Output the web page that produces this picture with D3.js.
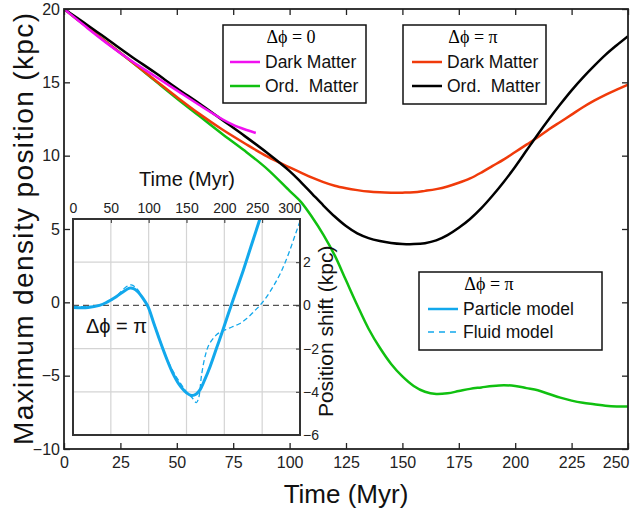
<!DOCTYPE html>
<html>
<head>
<meta charset="utf-8">
<title>Maximum density position</title>
<script src="https://cdn.jsdelivr.net/npm/d3@7"></script>
<style>
  body { margin: 0; background: #fff; }
  svg { display: block; font-family: "Liberation Sans", Arial, sans-serif; }
  .tick text { fill: #222; }
</style>
</head>
<body>
<script>
// main panel: time (Myr) vs position (kpc)
const timeMain = [0, 10, 20, 30, 40, 50, 60, 70, 80, 90, 100, 105, 110, 115, 120, 125, 130, 135, 140, 145, 150, 155, 160, 165, 170, 175, 180, 185, 190, 195, 200, 205, 210, 215, 220, 225, 230, 235, 240, 245, 250];
const timeDmZero = [0, 10, 20, 30, 40, 50, 60, 70, 75, 80, 85];
const dmZero = [20, 18.75, 17.55, 16.45, 15.45, 14.45, 13.45, 12.5, 12.1, 11.8, 11.55];   // dark matter, dphi = 0 (stops at t=85)
const ordZero = [20, 18.8, 17.6, 16.4, 15.15, 13.9, 12.7, 11.5, 10.35, 9.1, 7.6, 6.85, 5.8, 4.6, 3.2, 1.5, -0.2, -1.8, -3.1, -4.2, -5.05, -5.7, -6.1, -6.25, -6.2, -6.05, -5.9, -5.8, -5.7, -5.65, -5.7, -5.85, -6.0, -6.25, -6.5, -6.7, -6.85, -6.95, -7.05, -7.1, -7.1];
const dmPi = [20, 18.8, 17.6, 16.4, 15.2, 14.0, 12.85, 11.8, 10.85, 9.95, 9.2, 8.85, 8.5, 8.2, 7.95, 7.78, 7.65, 7.55, 7.5, 7.48, 7.48, 7.5, 7.6, 7.72, 7.9, 8.15, 8.45, 8.85, 9.3, 9.75, 10.25, 10.75, 11.25, 11.8, 12.3, 12.8, 13.3, 13.75, 14.15, 14.5, 14.85];
const ordPi = [20, 18.95, 17.85, 16.75, 15.7, 14.6, 13.55, 12.45, 11.35, 10.2, 8.95, 8.2, 7.4, 6.6, 5.85, 5.2, 4.7, 4.38, 4.18, 4.05, 3.98, 3.97, 4.03, 4.22, 4.58, 5.08, 5.68, 6.42, 7.28, 8.22, 9.25, 10.35, 11.45, 12.5, 13.5, 14.45, 15.32, 16.12, 16.87, 17.53, 18.15];

// inset: position shift (kpc), dphi = pi
const timeParticle = [0, 20, 35, 45, 55, 65, 75, 80, 86, 92, 99, 107, 115, 123, 132, 140, 150, 157, 163, 168, 174, 181, 190, 198, 209, 217, 225, 235, 247];
const particle = [-0.1, -0.1, 0.0, 0.15, 0.35, 0.6, 0.8, 0.78, 0.62, 0.35, -0.05, -0.85, -1.65, -2.4, -3.15, -3.65, -4.05, -4.17, -4.1, -3.9, -3.45, -2.85, -1.95, -1.15, 0.0, 0.8, 1.62, 2.7, 4.0];
const timeFluid = [0, 20, 40, 55, 70, 77, 85, 92, 98, 110, 120, 130, 140, 150, 158, 163, 166, 170, 175, 180, 190, 200, 210, 220, 230, 240, 247, 255, 265, 275, 285, 295, 300];
const fluid = [-0.05, -0.05, 0.05, 0.35, 0.85, 0.95, 0.75, 0.35, 0.0, -1.1, -2.1, -2.9, -3.5, -4.0, -4.3, -4.5, -4.3, -3.2, -2.3, -1.8, -1.35, -1.15, -1.0, -0.85, -0.6, -0.25, 0.0, 0.35, 0.9, 1.55, 2.4, 3.4, 3.9];

const xTicksMain = [0, 25, 50, 75, 100, 125, 150, 175, 200, 225, 250];
const yTicksMain = [-10, -5, 0, 5, 10, 15, 20];
const xTicksInset = [0, 50, 100, 150, 200, 250, 300];
const yTicksInset = [-6, -4, -2, 0, 2];

const margin = { top: 9, right: 2, bottom: 59, left: 64 };
const width = 630 - margin.left - margin.right;
const height = 508 - margin.top - margin.bottom;

const svg = d3.select("body").append("svg")
  .attr("width", 630)
  .attr("height", 508);

const x = d3.scaleLinear().domain([0, 250]).range([margin.left, margin.left + width]);
const y = d3.scaleLinear().domain([-10, 20]).range([margin.top + height, margin.top]);

svg.append("clipPath").attr("id", "clipMain")
  .append("rect").attr("x", x(0)).attr("y", y(20)).attr("width", width).attr("height", height);

// main curves
const line = (xs, ys) => d3.line()
  .x((d, i) => x(xs[i]))
  .y(d => y(d))
  .curve(d3.curveCatmullRom)(ys);

const curves = svg.append("g").attr("clip-path", "url(#clipMain)");
curves.append("path").attr("d", line(timeMain, ordZero)).attr("fill", "none").attr("stroke", "#10c010").attr("stroke-width", 2.5);
curves.append("path").attr("d", line(timeMain, dmPi)).attr("fill", "none").attr("stroke", "#f03a0a").attr("stroke-width", 2.5);
curves.append("path").attr("d", line(timeMain, ordPi)).attr("fill", "none").attr("stroke", "#000").attr("stroke-width", 2.5);
curves.append("path").attr("d", line(timeDmZero, dmZero)).attr("fill", "none").attr("stroke", "#f010f0").attr("stroke-width", 2.5);

// main axes, ticks pointing inward
svg.append("g").attr("transform", `translate(0,${y(-10)})`)
  .call(d3.axisBottom(x).tickValues(xTicksMain).tickSize(-6).tickPadding(8))
  .call(g => g.select(".domain").remove())
  .call(g => g.selectAll(".tick text").filter(d => d === 250).attr("text-anchor", "end").attr("dx", 1));
svg.append("g").attr("transform", `translate(0,${y(20)})`)
  .call(d3.axisTop(x).tickValues(xTicksMain).tickSize(-6).tickFormat(""))
  .call(g => g.select(".domain").remove());
svg.append("g").attr("transform", `translate(${x(0)},0)`)
  .call(d3.axisLeft(y).tickValues(yTicksMain).tickSize(-6).tickPadding(4))
  .call(g => g.select(".domain").remove());
svg.append("g").attr("transform", `translate(${x(250)},0)`)
  .call(d3.axisRight(y).tickValues(yTicksMain).tickSize(-6).tickFormat(""))
  .call(g => g.select(".domain").remove());
svg.selectAll(".tick line").attr("stroke", "#222").attr("stroke-width", 1.3);
svg.selectAll(".tick text").style("font-size", "16px");

svg.append("rect")
  .attr("x", x(0)).attr("y", y(20)).attr("width", width).attr("height", height)
  .attr("fill", "none").attr("stroke", "#222").attr("stroke-width", 1.8);

svg.append("text")
  .attr("x", (x(0) + x(250)) / 2).attr("y", 503)
  .attr("text-anchor", "middle").style("font-size", "26px").attr("fill", "#111")
  .text("Time (Myr)");
svg.append("text")
  .attr("transform", `translate(33,${y(5)}) rotate(-90)`)
  .attr("text-anchor", "middle").style("font-size", "28px").attr("fill", "#111")
  .attr("textLength", 432).attr("lengthAdjust", "spacing")
  .text("Maximum density position (kpc)");

// legends
function legend(box, textX, title, rows) {
  const g = svg.append("g");
  g.append("rect").attr("x", box[0]).attr("y", box[1]).attr("width", box[2]).attr("height", box[3])
    .attr("fill", "#fff").attr("stroke", "#111").attr("stroke-width", 1.5);
  g.append("text").attr("x", textX + 26).attr("y", title.y).attr("text-anchor", "middle")
    .style("font-family", "'Liberation Serif', 'Times New Roman', serif").style("font-size", "18px")
    .text(title.text);
  rows.forEach(r => {
    g.append("line").attr("x1", textX - 35).attr("x2", textX - 5).attr("y1", r.y - 6).attr("y2", r.y - 6)
      .attr("stroke", r.color).attr("stroke-width", r.dash ? 1.3 : 2.5).attr("stroke-dasharray", r.dash ? "6,5" : null);
    g.append("text").attr("x", textX).attr("y", r.y).style("font-size", "17.5px").attr("fill", "#111").text(r.label);
  });
}
legend([223, 25, 143, 78], 265, { text: "Δϕ = 0", y: 43 }, [
  { label: "Dark Matter", color: "#f010f0", y: 68 },
  { label: "Ord.\u00a0 Matter", color: "#10c010", y: 92 }
]);
legend([403, 25, 143, 79], 447, { text: "Δϕ = π", y: 43 }, [
  { label: "Dark Matter", color: "#f03a0a", y: 68 },
  { label: "Ord.\u00a0 Matter", color: "#000", y: 92 }
]);

// inset
const ix = d3.scaleLinear().domain([0, 300]).range([73, 300]);
const iy = d3.scaleLinear().domain([-6, 4]).range([435, 219]);

const inset = svg.append("g");
inset.append("rect").attr("x", ix(0)).attr("y", iy(4)).attr("width", ix(300) - ix(0)).attr("height", iy(-6) - iy(4))
  .attr("fill", "#fff");
svg.append("clipPath").attr("id", "clipInset")
  .append("rect").attr("x", ix(0)).attr("y", iy(4)).attr("width", ix(300) - ix(0)).attr("height", iy(-6) - iy(4));

inset.selectAll(".vgrid").data(xTicksInset.slice(1, -1)).join("line")
  .attr("x1", d => ix(d)).attr("x2", d => ix(d)).attr("y1", iy(4)).attr("y2", iy(-6))
  .attr("stroke", "#d4d4d4").attr("stroke-width", 1.2);
inset.selectAll(".hgrid").data([2, -2, -4]).join("line")
  .attr("x1", ix(0)).attr("x2", ix(300)).attr("y1", d => iy(d)).attr("y2", d => iy(d))
  .attr("stroke", "#d4d4d4").attr("stroke-width", 1.2);
inset.append("line").attr("x1", ix(0)).attr("x2", ix(300)).attr("y1", iy(0)).attr("y2", iy(0))
  .attr("stroke", "#555").attr("stroke-width", 1.3).attr("stroke-dasharray", "6,4");

const iline = (xs, ys) => d3.line()
  .x((d, i) => ix(xs[i]))
  .y(d => iy(d))
  .curve(d3.curveCatmullRom)(ys);
const icurves = inset.append("g").attr("clip-path", "url(#clipInset)");
icurves.append("path").attr("d", iline(timeFluid, fluid)).attr("fill", "none")
  .attr("stroke", "#12a8ec").attr("stroke-width", 1.3).attr("stroke-dasharray", "5,3");
icurves.append("path").attr("d", iline(timeParticle, particle)).attr("fill", "none")
  .attr("stroke", "#12a8ec").attr("stroke-width", 3);

inset.append("g").attr("transform", `translate(0,${iy(4)})`)
  .call(d3.axisTop(ix).tickValues(xTicksInset).tickSize(-4).tickPadding(6))
  .call(g => g.select(".domain").remove())
  .call(g => g.selectAll(".tick text").style("font-size", "14px"))
  .call(g => g.selectAll(".tick text").filter(d => d === 250).attr("dx", -5))
  .call(g => g.selectAll(".tick text").filter(d => d === 300).attr("text-anchor", "end").attr("dx", 1));
inset.append("g").attr("transform", `translate(${ix(300)},0)`)
  .call(d3.axisRight(iy).tickValues(yTicksInset).tickSize(-4).tickPadding(3))
  .call(g => g.select(".domain").remove())
  .selectAll("text").style("font-size", "14px");
inset.selectAll(".tick line").attr("stroke", "#333");
inset.append("rect").attr("x", ix(0)).attr("y", iy(4)).attr("width", ix(300) - ix(0)).attr("height", iy(-6) - iy(4))
  .attr("fill", "none").attr("stroke", "#333").attr("stroke-width", 2);

inset.append("text").attr("x", 187).attr("y", 186).attr("text-anchor", "middle")
  .style("font-size", "20px").attr("fill", "#111").text("Time (Myr)");
inset.append("text").attr("transform", `translate(333,${iy(-1.2)}) rotate(-90)`).attr("text-anchor", "middle")
  .style("font-size", "21px").attr("fill", "#111").text("Position shift (kpc)");
inset.append("text").attr("x", 86).attr("y", 333)
  .style("font-size", "20px").attr("fill", "#111").text("Δϕ = π");

legend([419, 272, 183, 78], 463, { text: "Δϕ = π", y: 290 }, [
  { label: "Particle model", color: "#12a8ec", y: 315 },
  { label: "Fluid  model", color: "#12a8ec", y: 338, dash: true }
]);
</script>
</body>
</html>
